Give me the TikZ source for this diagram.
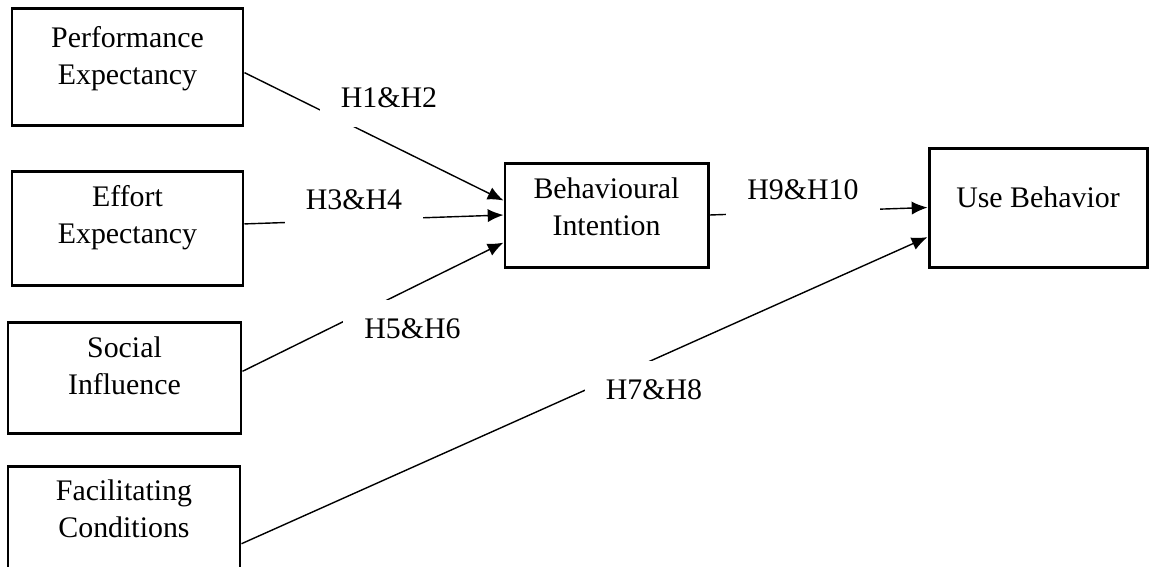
\documentclass[tikz,border=0pt]{standalone}
\usepackage{fontspec}
\setmainfont{Liberation Serif}
\usetikzlibrary{arrows.meta}

\newlength\pxl
\setlength\pxl{0.02cm}

\begin{document}
\begin{tikzpicture}[x=0.02cm, y=-0.02cm,
    box/.style={draw, line width=1.7pt, align=center, font=\fontsize{17}{21}\selectfont, text height=33pt},
    hyp/.style={fill=white, inner xsep=12pt, inner ysep=10.5pt, font=\fontsize{17}{21}\selectfont},
    link/.style={line width=0.8pt, -{Latex[length=9pt, width=7.5pt]}}]

    \useasboundingbox (0,0) rectangle (1150,566);
    \clip (0,0) rectangle (1150,566);

    % constructs
    \node[box, minimum width=231*\pxl, minimum height=117*\pxl, text depth=12.8pt] (pe) at (127.5,66.5) {Performance\\Expectancy};
    \node[box, minimum width=231*\pxl, minimum height=114*\pxl, text depth=15.2pt] (ee) at (127.5,228) {Effort\\Expectancy};
    \node[box, minimum width=233*\pxl, minimum height=111*\pxl, text depth=13.4pt] (si) at (124.5,377.5) {Social\\Influence};
    \node[box, minimum width=232*\pxl, minimum height=114*\pxl, text depth=16.2pt] (fc) at (124,523) {Facilitating\\Conditions};
    \node[box, minimum width=203*\pxl, minimum height=104*\pxl, text depth=9.4pt] (bi) at (606.5,215) {Behavioural\\Intention};
    \node[box, minimum width=218*\pxl, minimum height=119*\pxl, text height=11.5pt, text depth=12pt] (ub) at (1038,207.5) {Use Behavior};

    % paths
    \draw[link] (pe.-3) -- (bi.172);
    \draw[link] (ee.2) -- (bi.west);
    \draw[link] (si.3) -- (bi.195);
    \draw[link] (fc.-10) -- (ub.195);
    \draw[link] (bi.east) -- (ub.west);

    % hypotheses
    \node[hyp] (h12) at (389,98) {H1\&H2};
    \node[hyp] (h34) at (354,200) {H3\&H4};
    \node[hyp] (h56) at (412.5,329) {H5\&H6};
    \node[hyp] (h78) at (654,389.5) {H7\&H8};
    \node[hyp] (h910) at (803,190) {H9\&H10};

\end{tikzpicture}
\end{document}
